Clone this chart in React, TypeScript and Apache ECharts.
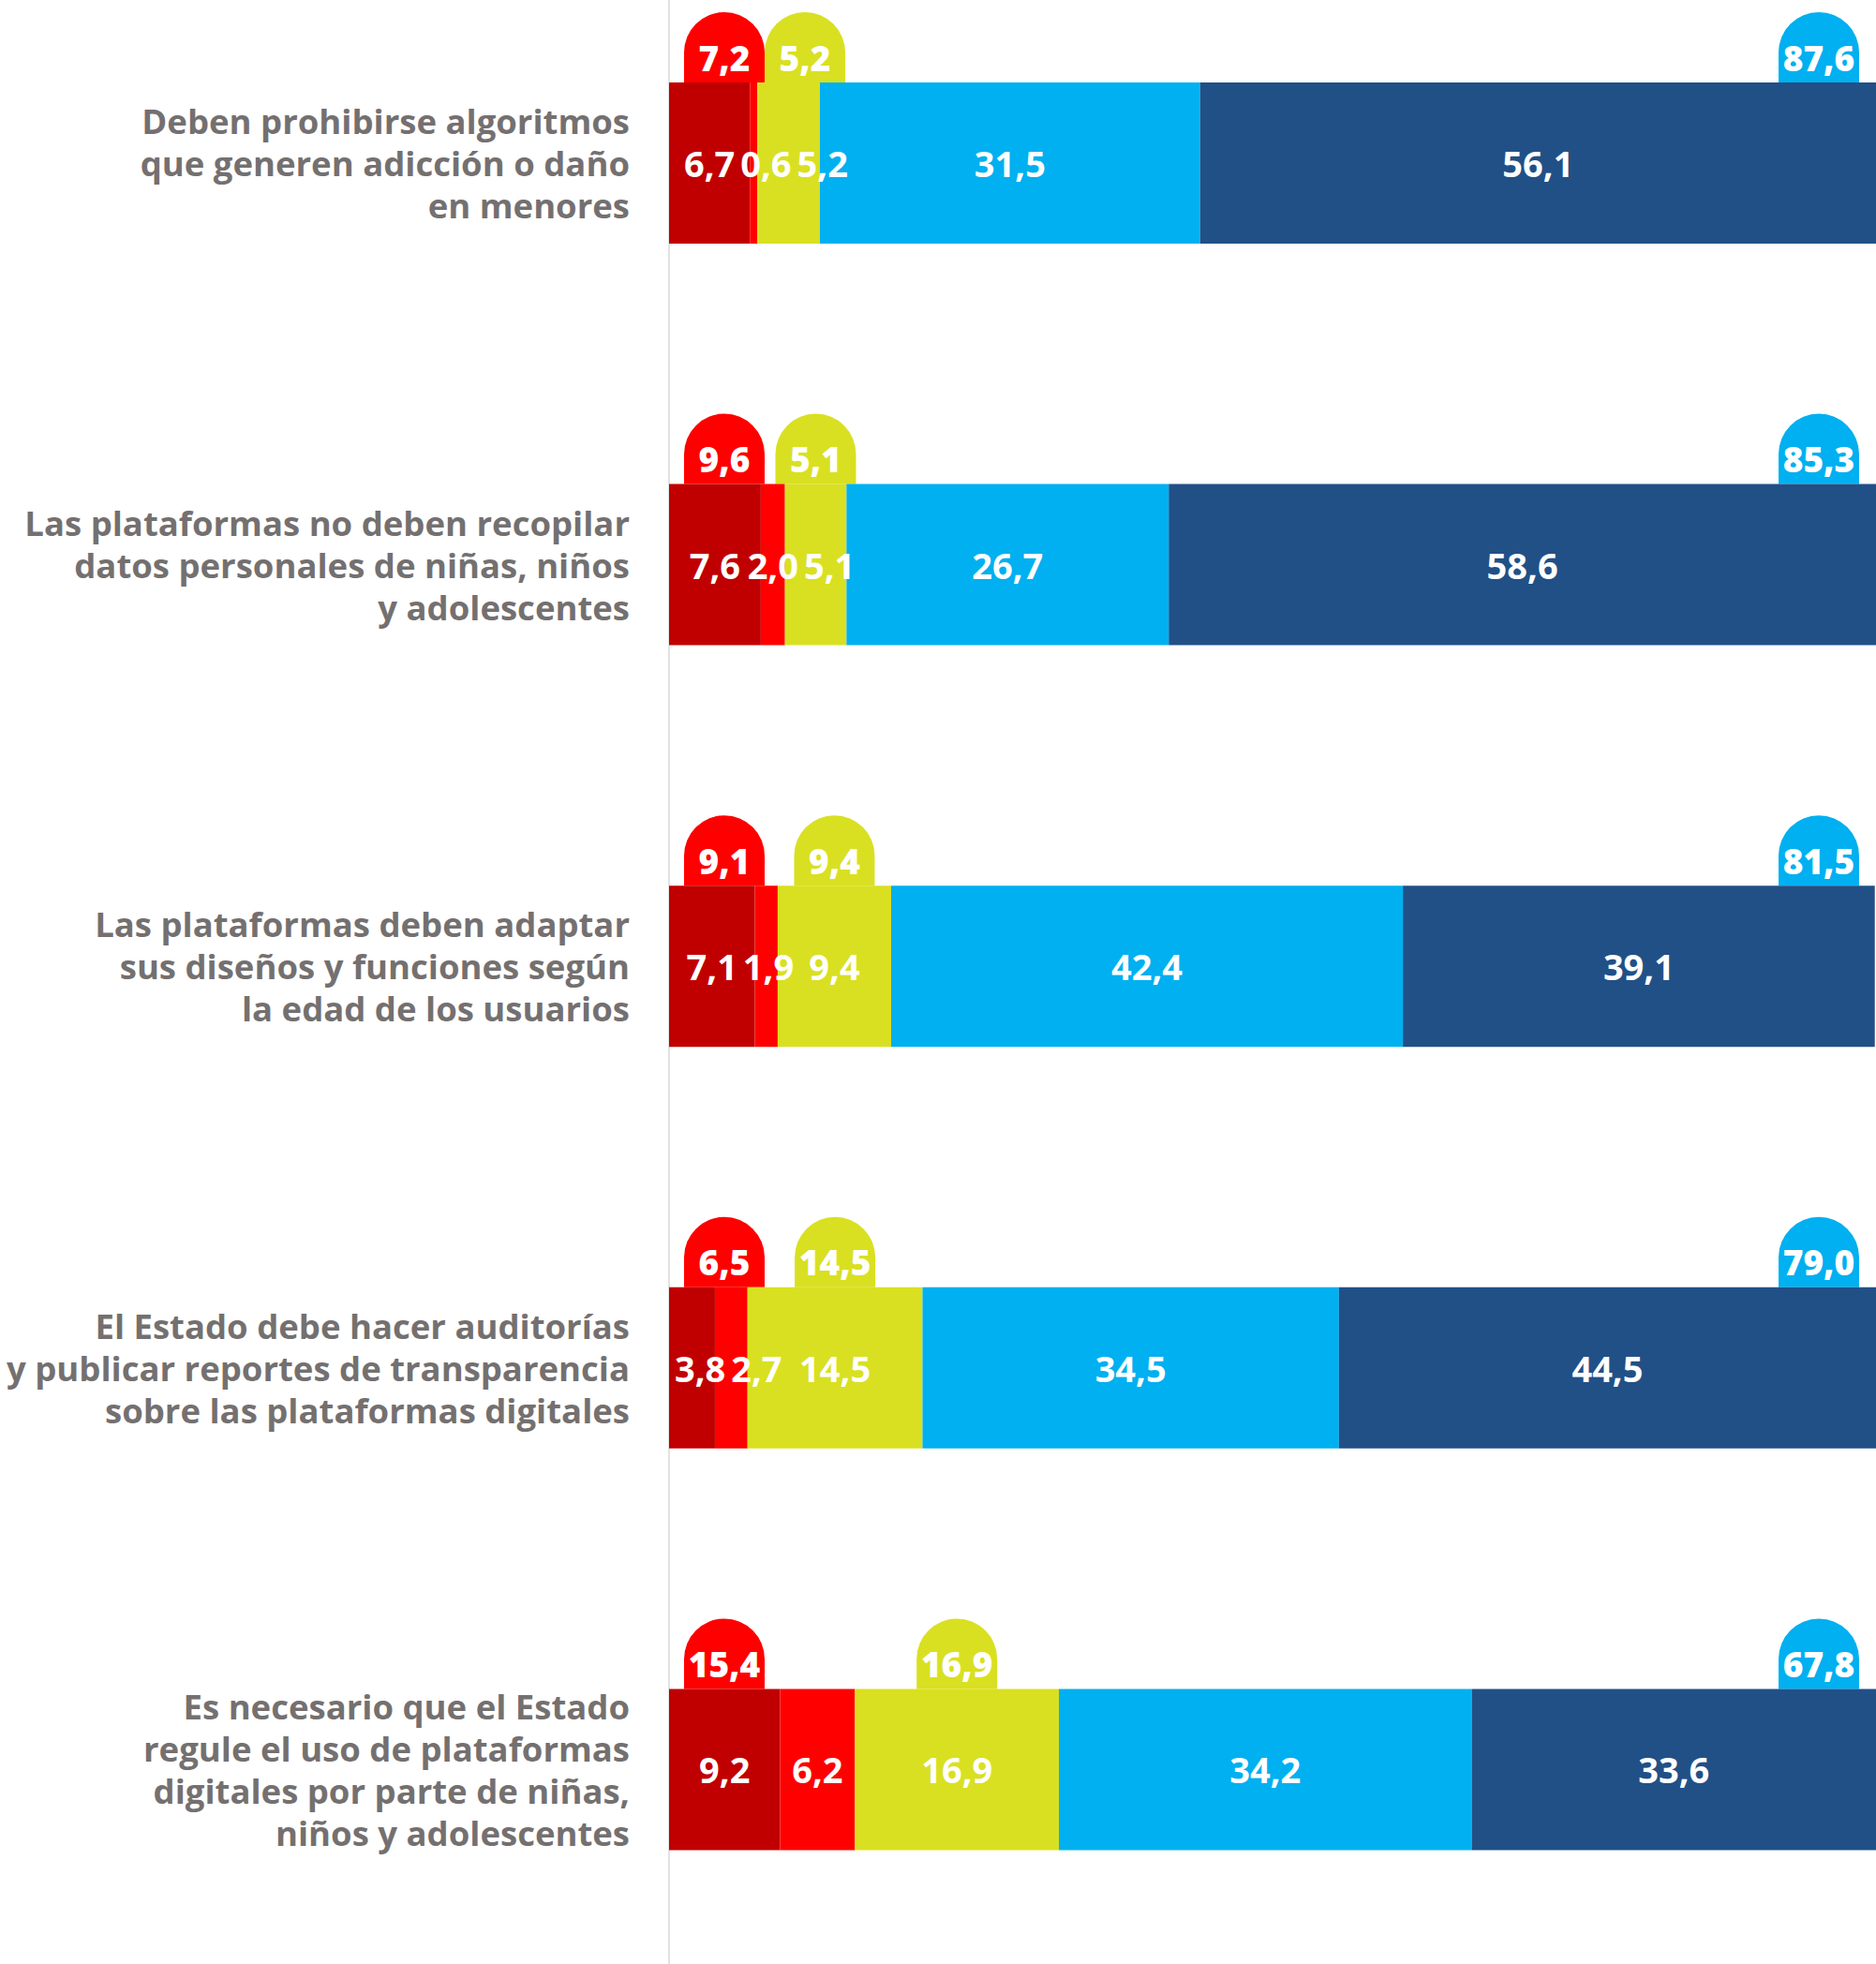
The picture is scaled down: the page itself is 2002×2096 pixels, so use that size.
import React, { useEffect, useRef } from "react";
import * as echarts from "echarts";

const categories = [
  "Deben prohibirse algoritmos\nque generen adicción o daño\nen menores",
  "Las plataformas no deben recopilar\ndatos personales de niñas, niños\ny adolescentes",
  "Las plataformas deben adaptar\nsus diseños y funciones según\nla edad de los usuarios",
  "El Estado debe hacer auditorías\ny publicar reportes de transparencia\nsobre las plataformas digitales",
  "Es necesario que el Estado\nregule el uso de plataformas\ndigitales por parte de niñas,\nniños y adolescentes",
];

const darkRed = [6.7, 7.6, 7.1, 3.8, 9.2];
const red = [0.6, 2.0, 1.9, 2.7, 6.2];
const yellow = [5.2, 5.1, 9.4, 14.5, 16.9];
const lightBlue = [31.5, 26.7, 42.4, 34.5, 34.2];
const darkBlue = [56.1, 58.6, 39.1, 44.5, 33.6];

const redTotals = [7.2, 9.6, 9.1, 6.5, 15.4];
const yellowTotals = [5.2, 5.1, 9.4, 14.5, 16.9];
const blueTotals = [87.6, 85.3, 81.5, 79.0, 67.8];

const FONT = "'Open Sans', 'Noto Sans', sans-serif";
const COLORS = ["#c00000", "#ff0000", "#d9e021", "#00b0f0", "#215087"];

const fmt = (v: number) => v.toFixed(1).replace(".", ",");

const SHIFT = 60;

export default function App() {
  const ref = useRef<HTMLDivElement>(null);

  useEffect(() => {
    if (!ref.current) return;
    const chart = echarts.init(ref.current, null, { renderer: "svg" });

    const gridLeft = 714;
    const gridWidth = 1288;
    const band = 428.6;
    const gridTop = 174 + SHIFT - band / 2;
    const barH = 172;
    const bubbleW = 86;
    const bubbleH = 75;
    const pxPerUnit = gridWidth / 100;
    const segs = [darkRed, red, yellow, lightBlue, darkBlue];

    const ctx = document.createElement("canvas").getContext("2d");
    const labelFont = `700 38px ${FONT}`;
    const measure = (t: string) => {
      if (ctx) {
        ctx.font = labelFont;
        return ctx.measureText(t).width;
      }
      return t.length * 20;
    };
    const offsets = segs.map(() => new Array(categories.length).fill(0));
    for (let r = 0; r < categories.length; r++) {
      let cum = 0;
      let prevRight = 0;
      for (let s = 0; s < segs.length; s++) {
        const v = segs[s][r];
        const c = (cum + v / 2) * pxPerUnit;
        const w = measure(fmt(v));
        let left = c - w / 2;
        if (left < prevRight + 6) left = prevRight + 6;
        offsets[s][r] = left + w / 2 - c;
        prevRight = left + w;
        cum += v;
      }
    }

    const barSeries = segs.map((arr, s) => ({
      type: "bar",
      stack: "total",
      barWidth: barH,
      silent: true,
      itemStyle: { color: COLORS[s] },
      label: {
        show: true,
        position: "inside",
        color: "#ffffff",
        fontSize: 38,
        fontWeight: 700,
        fontFamily: FONT,
        formatter: (p: any) => fmt(p.value),
      },
      data: arr.map((v, r) => ({
        value: v,
        label: { offset: [offsets[s][r], 0] },
      })),
    }));

    const bubbleText = (x: number, y: number, txt: string) => ({
      type: "text",
      style: {
        x,
        y,
        text: txt,
        fill: "#ffffff",
        fontSize: 37,
        fontWeight: 800,
        fontFamily: FONT,
        align: "center",
        verticalAlign: "middle",
      },
    });

    const bubble = (cx: number, barCenterY: number, color: string, txt: string) => {
      const top = barCenterY - barH / 2 - bubbleH;
      return {
        type: "group",
        children: [
          {
            type: "rect",
            shape: { x: cx - bubbleW / 2, y: top, width: bubbleW, height: bubbleH, r: [43, 43, 0, 0] },
            style: { fill: color },
          },
          bubbleText(cx, top + 48, txt),
        ],
      };
    };

    const redBubbles = {
      type: "custom",
      silent: true,
      encode: { x: 0, y: 1 },
      data: categories.map((_, r) => [0, r, redTotals[r]]),
      renderItem: (params: any, api: any) => {
        const p = api.coord([api.value(0), api.value(1)]);
        const cx = p[0] + 16 + bubbleW / 2;
        return bubble(cx, p[1], COLORS[1], fmt(api.value(2)));
      },
    };

    const yellowBubbles = {
      type: "custom",
      silent: true,
      encode: { x: 0, y: 1 },
      data: categories.map((_, r) => [darkRed[r] + red[r] + yellow[r] / 2, r, yellowTotals[r]]),
      renderItem: (params: any, api: any) => {
        const p = api.coord([api.value(0), api.value(1)]);
        const base = api.coord([0, api.value(1)]);
        const minCx = base[0] + 16 + bubbleW + bubbleW / 2;
        const cx = Math.max(p[0], minCx);
        return bubble(cx, p[1], COLORS[2], fmt(api.value(2)));
      },
    };

    const blueBubbles = {
      type: "custom",
      silent: true,
      encode: { x: 0, y: 1 },
      data: categories.map((_, r) => [100, r, blueTotals[r]]),
      renderItem: (params: any, api: any) => {
        const p = api.coord([api.value(0), api.value(1)]);
        const cx = p[0] - 18 - bubbleW / 2;
        return bubble(cx, p[1], COLORS[3], fmt(api.value(2)));
      },
    };

    chart.setOption({
      animation: false,
      backgroundColor: "#ffffff",
      grid: {
        left: gridLeft,
        width: gridWidth,
        top: gridTop,
        height: band * categories.length,
        containLabel: false,
      },
      xAxis: {
        type: "value",
        min: 0,
        max: 100,
        show: false,
      },
      yAxis: {
        type: "category",
        inverse: true,
        data: categories,
        axisLine: { show: true, lineStyle: { color: "#e2e2e2", width: 2 } },
        axisTick: { show: false },
        splitLine: { show: false },
        axisLabel: {
          margin: 42,
          color: "#747070",
          fontSize: 36.5,
          fontWeight: "bold",
          fontFamily: FONT,
          lineHeight: 45,
          align: "right",
          verticalAlign: "middle",
          padding: [12, 0, 0, 0],
        },
      },
      series: [...barSeries, redBubbles, yellowBubbles, blueBubbles],
    });

    return () => chart.dispose();
  }, []);

  return (
    <div
      style={{
        position: "absolute",
        left: 0,
        top: 0,
        width: 2002,
        height: 2096,
        overflow: "hidden",
        background: "#fff",
      }}
    >
      <div
        ref={ref}
        style={{ position: "absolute", left: 0, top: -SHIFT, width: 2002, height: 2096 + 2 * SHIFT }}
      />
    </div>
  );
}
